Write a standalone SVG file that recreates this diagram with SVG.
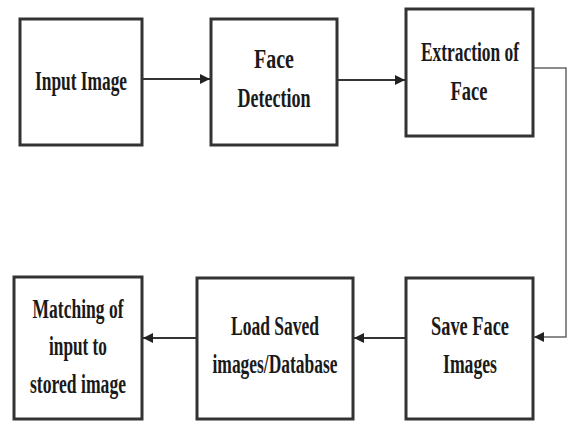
<svg xmlns="http://www.w3.org/2000/svg" width="568" height="422" viewBox="0 0 568 422">
<style>
.box{fill:#ffffff;stroke:#333333;stroke-width:3}
.t{font-family:"Liberation Serif","Times New Roman",serif;font-weight:bold;font-size:27px;fill:#1a1a1a;text-anchor:middle}
.c{fill:none;stroke:#333333;stroke-width:2}
.c2{fill:none;stroke:#666666;stroke-width:1.5}
</style>
<defs>
<marker id="ah" viewBox="0 0 10 10" refX="10" refY="5" markerWidth="10" markerHeight="10" markerUnits="userSpaceOnUse" orient="auto">
<path d="M0,0 L10,5 L0,10 Z" fill="#222222"/>
</marker>
</defs>
<rect width="568" height="422" fill="#ffffff"/>
<g id="connectors">
<line class="c" x1="143" y1="79" x2="210" y2="79" marker-end="url(#ah)"/>
<line class="c" x1="338" y1="80" x2="405" y2="80" marker-end="url(#ah)"/>
<path class="c2" d="M534,68 H566 V337 H534" marker-end="url(#ah)"/>
<line class="c" x1="405" y1="338" x2="354" y2="338" marker-end="url(#ah)"/>
<line class="c" x1="196" y1="338" x2="143" y2="338" marker-end="url(#ah)"/>
</g>
<g id="input-image">
<rect class="box" x="20" y="19" width="122" height="126"/>
<text class="t" x="81" y="90" textLength="92" lengthAdjust="spacingAndGlyphs">Input Image</text>
</g>
<g id="face-detection">
<rect class="box" x="211" y="19" width="126" height="126"/>
<text class="t" x="274" y="68" textLength="40" lengthAdjust="spacingAndGlyphs">Face</text>
<text class="t" x="274" y="107" textLength="73" lengthAdjust="spacingAndGlyphs">Detection</text>
</g>
<g id="extraction-of-face">
<rect class="box" x="406" y="9" width="127" height="127"/>
<text class="t" x="470" y="61" textLength="98" lengthAdjust="spacingAndGlyphs">Extraction of</text>
<text class="t" x="469" y="100" textLength="37" lengthAdjust="spacingAndGlyphs">Face</text>
</g>
<g id="save-face-images">
<rect class="box" x="406" y="278" width="127" height="141"/>
<text class="t" x="470" y="335" textLength="78" lengthAdjust="spacingAndGlyphs">Save Face</text>
<text class="t" x="470" y="373" textLength="54" lengthAdjust="spacingAndGlyphs">Images</text>
</g>
<g id="load-saved-images">
<rect class="box" x="197" y="278" width="156" height="141"/>
<text class="t" x="275" y="335" textLength="88" lengthAdjust="spacingAndGlyphs">Load Saved</text>
<text class="t" x="275" y="373" textLength="125" lengthAdjust="spacingAndGlyphs">images/Database</text>
</g>
<g id="matching">
<rect class="box" x="14" y="277" width="128" height="142"/>
<text class="t" x="78" y="318" textLength="91" lengthAdjust="spacingAndGlyphs">Matching of</text>
<text class="t" x="78" y="355" textLength="58" lengthAdjust="spacingAndGlyphs">input  to</text>
<text class="t" x="78" y="393" textLength="96" lengthAdjust="spacingAndGlyphs">stored image</text>
</g>
</svg>
